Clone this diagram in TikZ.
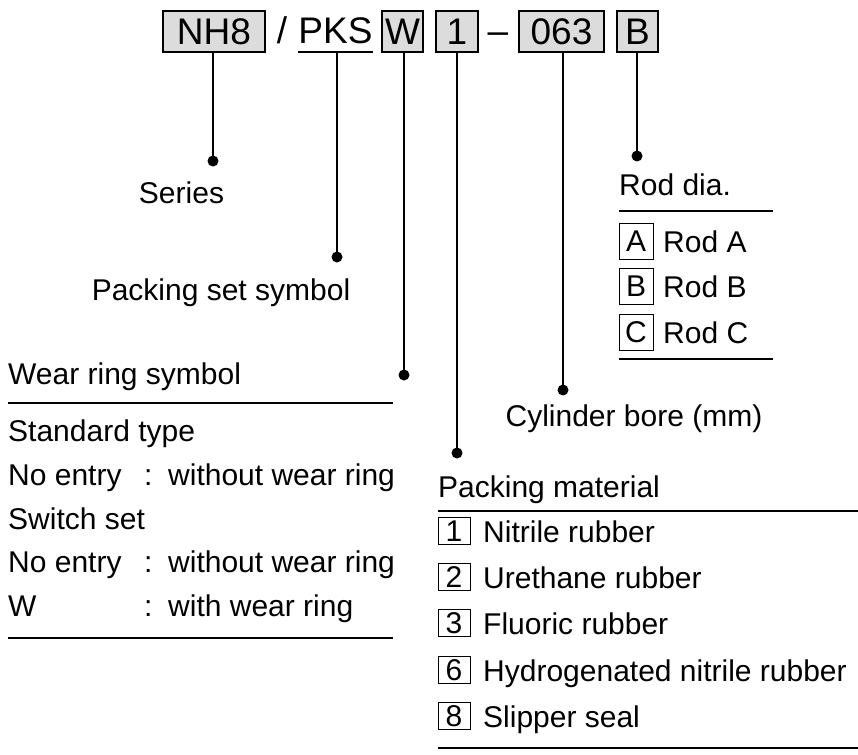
\documentclass[tikz,border=0pt]{standalone}
\usepackage{fontspec}
\setmainfont{Liberation Sans}
\begin{document}
\begin{tikzpicture}[x=1pt,y=-1pt,
  codefont/.style={font=\fontsize{37}{40}\selectfont},
  bodyfont/.style={font=\fontsize{30}{34}\selectfont},
  codebox/.style={codefont,draw,line width=1.3pt,fill={rgb,255:red,220;green,220;blue,220},inner sep=0pt,minimum height=41pt},
  code/.style={codefont,inner sep=0pt,anchor=base},
  lbl/.style={bodyfont,inner sep=0pt,anchor=base west},
  clbl/.style={bodyfont,inner sep=0pt,anchor=base},
  keybox/.style={bodyfont,draw,line width=1pt,inner sep=0pt,minimum width=33pt},
  conn/.style={line width=1.6pt},
  rule/.style={line width=1.6pt},
  dotc/.style={fill=black}]
\useasboundingbox (0,0) rectangle (858,754);

% ---- code row ----
\node[codebox,minimum width=102pt] (nh8) at (214,31.5) {NH8};
\node[code] (slash) at (282,44) {/};
\node[code] (pks) at (335.5,44) {PKS};
\coordinate (pkUl) at (298,52);
\coordinate (pkUr) at (373,52);
\coordinate (pkU) at (337,52);
\draw[conn] (pkUl) -- (pkUr);
\node[codebox,minimum width=41pt] (w) at (402.5,31.5) {W};
\node[codebox,minimum width=42pt] (one) at (457,31.5) {1};
\node[code] (dash) at (498,44) {–};
\node[codebox,minimum width=85pt] (bore) at (561.5,31.5) {063};
\node[codebox,minimum width=41pt] (b) at (637.5,31.5) {B};

% ---- dots ----
\coordinate (dS) at (213,161);
\coordinate (dP) at (337,257);
\coordinate (dW) at (404,375);
\coordinate (d1) at (457,453);
\coordinate (dC) at (563,390);
\coordinate (dB) at (637,156);
\draw[conn] (nh8.south -| dS) -- (dS);
\draw[conn] (pkU) -- (dP);
\draw[conn] (w.south -| dW) -- (dW);
\draw[conn] (one.south -| d1) -- (d1);
\draw[conn] (bore.south -| dC) -- (dC);
\draw[conn] (b.south -| dB) -- (dB);
\foreach \d in {dS,dP,dW,d1,dC,dB} \fill[dotc] (\d) circle (5.5pt);

% ---- labels ----
\node[clbl] (series) at (181.5,203) {Series};
\node[clbl] (pss) at (221,300) {Packing set symbol};
\node[clbl] (cyl) at (634,426) {Cylinder bore (mm)};

% ---- wear ring table ----
\node[lbl] (wrs) at (8,384) {Wear ring symbol};
\coordinate (wrA) at (8,403); \coordinate (wrB) at (393,403);
\coordinate (wrC) at (8,638); \coordinate (wrD) at (393,638);
\draw[rule] (wrA) -- (wrB);
\draw[rule] (wrC) -- (wrD);
\node[lbl] (st) at (8,441) {Standard type};
\node[lbl] (ne1) at (8,485) {No entry};
\node[lbl] (c1) at (144,485) {:};
\node[lbl] (wo1) at (168,485) {without wear ring};
\node[lbl] (sw) at (8,529) {Switch set};
\node[lbl] (ne2) at (8,572) {No entry};
\node[lbl] (c2) at (144,572) {:};
\node[lbl] (wo2) at (168,572) {without wear ring};
\node[lbl] (wl) at (8,616) {W};
\node[lbl] (c3) at (144,616) {:};
\node[lbl] (wi) at (168,616) {with wear ring};

% ---- rod dia table ----
\node[lbl] (rod) at (619,195) {Rod dia.};
\coordinate (rA) at (619,211); \coordinate (rB) at (773,211);
\coordinate (rC) at (619,359); \coordinate (rD) at (773,359);
\draw[rule] (rA) -- (rB);
\draw[rule] (rC) -- (rD);
\node[keybox,minimum width=34pt,minimum height=36pt] (ka) at (636,241) {A};
\node[lbl] (ta) at (663,252) {Rod A};
\node[keybox,minimum width=34pt,minimum height=36pt] (kb) at (636,286) {B};
\node[lbl] (tb) at (663,297) {Rod B};
\node[keybox,minimum width=34pt,minimum height=36pt] (kc) at (636,332) {C};
\node[lbl] (tc) at (663,343) {Rod C};

% ---- packing material table ----
\node[lbl] (pm) at (438,497) {Packing material};
\coordinate (pA) at (438,511); \coordinate (pB) at (858,511);
\coordinate (pC) at (438,748); \coordinate (pD) at (858,748);
\draw[rule] (pA) -- (pB);
\draw[rule] (pC) -- (pD);
\foreach \k/\t/\yc [count=\i] in {1/Nitrile rubber/531,2/Urethane rubber/577,3/Fluoric rubber/623,6/Hydrogenated nitrile rubber/670,8/Slipper seal/716}{
  \node[keybox,minimum width=32pt,minimum height=27pt] (pk\i) at (454,\yc) {\k};
  \node[lbl] (pt\i) at (483,\yc+11) {\t};
}
\end{tikzpicture}
\end{document}
